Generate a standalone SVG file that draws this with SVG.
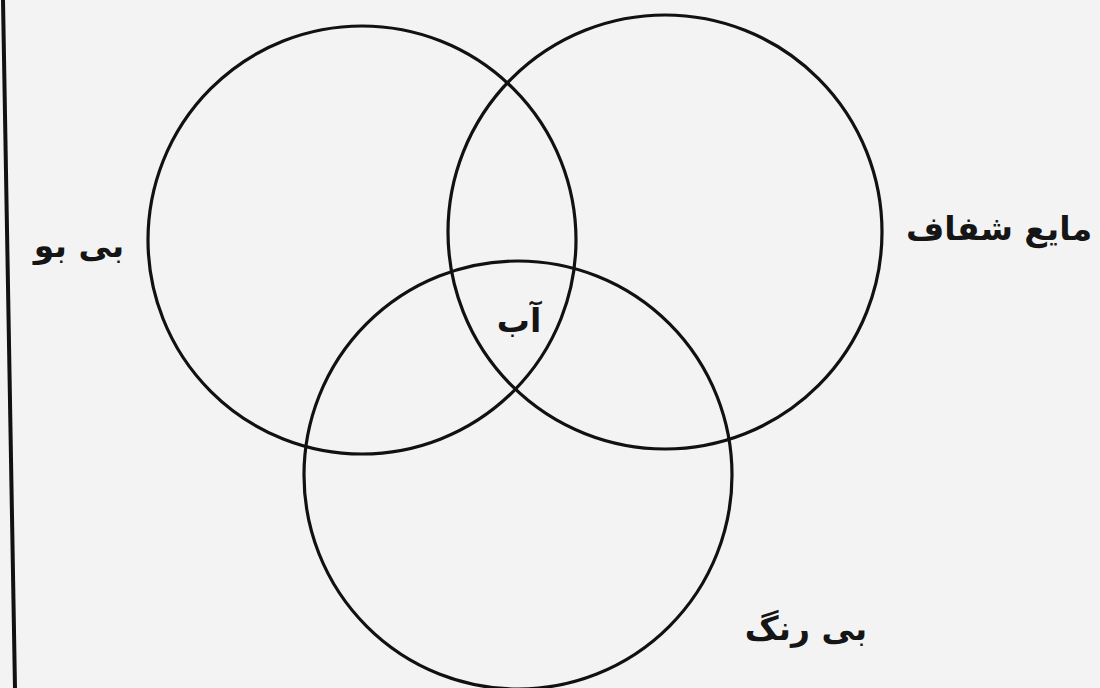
<svg xmlns="http://www.w3.org/2000/svg" width="1100" height="688" viewBox="0 0 1100 688">
<style>
.c{fill:none;stroke:#111;stroke-width:3.2}
.t{font-family:"DejaVu Sans","Noto Sans",sans-serif;font-size:33px;font-weight:bold;fill:#151515;text-anchor:middle;direction:rtl}
</style>
<rect width="1100" height="688" fill="#f3f3f3"/>
<line x1="3" y1="0" x2="15" y2="688" stroke="#111" stroke-width="4"/>
<g id="set-bibo"><circle class="c" cx="362" cy="240" r="214"/><text class="t" x="79" y="257">بی بو</text></g>
<g id="set-shafaf"><circle class="c" cx="665" cy="232" r="217"/><text class="t" x="999" y="240">مایع شفاف</text></g>
<g id="set-birang"><circle class="c" cx="518" cy="475" r="214"/><text class="t" x="806" y="640">بی رنگ</text></g>
<g id="center"><text class="t" x="519" y="332">آب</text></g>
</svg>
